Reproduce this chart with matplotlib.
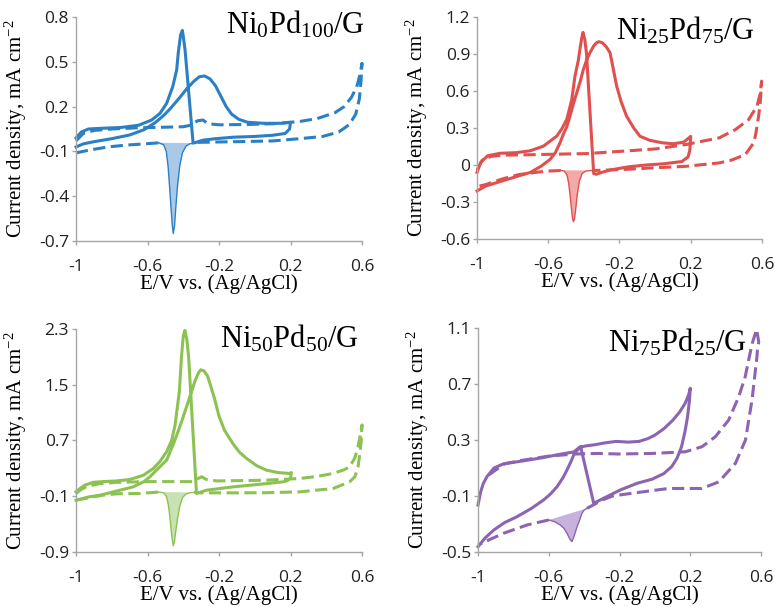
# -*- coding: utf-8 -*-
import numpy as np
import matplotlib
matplotlib.use('Agg')
from matplotlib import pyplot as plt

nan = np.nan

X_TICKS = [-1, -0.6, -0.2, 0.2, 0.6]

# Ni0Pd100/G  (solid = CV loop, dashed = second loop, red = reduction peak)
P1_SOLID_E = [-1.00, -0.96, -0.90, -0.80, -0.70, -0.62, -0.56, -0.51, -0.47, -0.42, -0.38, -0.34, -0.31,
              -0.28, -0.25, -0.22, -0.19, -0.16, -0.13, -0.09, -0.04, 0.05, 0.15, 0.20, 0.195, 0.17,
              0.10, 0.00, -0.12, -0.22, -0.29, -0.33, -0.345, -0.39, -0.40, -0.405, -0.415, -0.428,
              -0.437, -0.459, -0.493, -0.53, -0.577, -0.65, -0.75, -0.85, -0.93, -0.97, -1.00]
P1_SOLID_J = [-0.07, -0.05, -0.035, -0.015, 0.01, 0.045, 0.09, 0.14, 0.19, 0.26, 0.32, 0.37, 0.40,
              0.405, 0.385, 0.34, 0.27, 0.20, 0.15, 0.115, 0.095, 0.088, 0.088, 0.095, 0.05, 0.02,
              0.008, 0.0, -0.005, -0.015, -0.025, -0.04, -0.045, 0.58, 0.67, 0.71, 0.68, 0.56,
              0.445, 0.333, 0.222, 0.155, 0.11, 0.075, 0.06, 0.055, 0.05, 0.03, -0.01]
P1_DASH_E = [-1.00, -0.96, -0.90, -0.80, -0.65, -0.50, -0.40, -0.36, -0.32, -0.29, -0.26, -0.20, -0.05,
             0.10, 0.25, 0.35, 0.45, 0.50, 0.54, 0.57, 0.59, 0.60, 0.595, 0.585, 0.565, 0.53, 0.47,
             0.38, 0.25, 0.10, -0.10, -0.25, -0.34, nan, -0.54, -0.62, -0.72, -0.82, -0.92, -1.00]
P1_DASH_J = [-0.03, 0.02, 0.04, 0.05, 0.058, 0.062, 0.065, 0.075, 0.105, 0.11, 0.085, 0.078, 0.08,
             0.085, 0.10, 0.12, 0.16, 0.20, 0.26, 0.33, 0.42, 0.49, 0.38, 0.25, 0.15, 0.08, 0.03,
             0.0, -0.015, -0.03, -0.035, -0.038, -0.04, nan, -0.043, -0.05, -0.058, -0.07, -0.09, -0.11]
P1_RED_E = [-0.54, -0.51, -0.495, -0.485, -0.477, -0.469, -0.462, -0.456, -0.449, -0.442, -0.432,
            -0.42, -0.405, -0.385, -0.365, -0.345]
P1_RED_J = [-0.042, -0.055, -0.10, -0.20, -0.33, -0.47, -0.59, -0.65, -0.60, -0.48, -0.33,
            -0.20, -0.11, -0.065, -0.05, -0.045]
P1_YTICKS = [0.8, 0.5, 0.2, -0.1, -0.4, -0.7]

# Ni25Pd75/G
P2_SOLID_E = [-1.00, -0.95, -0.86, -0.77, -0.70, -0.64, -0.59, -0.56, -0.534, -0.515, -0.496, -0.478,
              -0.46, -0.44, -0.42, -0.403, -0.385, -0.366, -0.345, -0.33, -0.315, -0.295, -0.275,
              -0.253, -0.235, -0.216, -0.19, -0.16, -0.12, -0.085, -0.03, 0.04, 0.10, 0.16, 0.20,
              0.195, 0.185, 0.15, 0.05, -0.05, -0.15, -0.25, -0.30, -0.33, -0.345, -0.385, -0.395,
              -0.405, -0.412, -0.42, -0.431, -0.45, -0.468, -0.496, -0.525, -0.553, -0.628, -0.702,
              -0.78, -0.87, -0.94, -0.98, -1.00]
P2_SOLID_J = [-0.21, -0.17, -0.13, -0.09, -0.06, -0.01, 0.045, 0.10, 0.18, 0.25, 0.31, 0.395,
              0.49, 0.585, 0.68, 0.773, 0.85, 0.91, 0.965, 0.99, 1.0, 0.99, 0.96,
              0.91, 0.78, 0.64, 0.51, 0.395, 0.30, 0.233, 0.20, 0.18, 0.172, 0.185, 0.232,
              0.12, 0.065, 0.028, 0.01, 0.0, -0.015, -0.04, -0.06, -0.075, -0.07, 0.90, 1.02,
              1.075, 1.03, 0.96, 0.85, 0.72, 0.53, 0.37, 0.29, 0.233, 0.152, 0.115,
              0.10, 0.095, 0.075, 0.02, -0.06]
P2_DASH_E = [-1.00, -0.97, -0.92, -0.85, -0.70, -0.55, -0.39, -0.20, 0.0, 0.17, 0.36, 0.45, 0.525,
             0.572, 0.59, 0.598, 0.59, 0.581, 0.565, 0.553, 0.506, 0.43, 0.357, 0.17, -0.02, -0.20,
             -0.35, nan, -0.53, -0.616, -0.766, -0.85, -0.897, -0.953, -1.00]
P2_DASH_J = [-0.04, 0.04, 0.07, 0.08, 0.083, 0.088, 0.092, 0.11, 0.13, 0.165, 0.22, 0.286, 0.368,
             0.476, 0.58, 0.68, 0.50, 0.395, 0.25, 0.178, 0.084, 0.04, 0.016, -0.011, -0.024, -0.038,
             -0.045, nan, -0.045, -0.05, -0.078, -0.11, -0.132, -0.16, -0.175]
P2_RED_E = [-0.53, -0.51, -0.495, -0.485, -0.477, -0.47, -0.464, -0.459, -0.453, -0.446, -0.437,
            -0.425, -0.41, -0.39, -0.37, -0.35]
P2_RED_J = [-0.043, -0.05, -0.08, -0.15, -0.25, -0.35, -0.43, -0.46, -0.44, -0.36, -0.24,
            -0.13, -0.07, -0.05, -0.045, -0.045]
P2_YTICKS = [1.2, 0.9, 0.6, 0.3, 0, -0.3, -0.6]

# Ni50Pd50/G
P3_SOLID_E = [-1.00, -0.93, -0.866, -0.78, -0.68, -0.62, -0.587, -0.54, -0.493, -0.455, -0.419, -0.39,
              -0.363, -0.335, -0.315, -0.302, -0.285, -0.265, -0.251, -0.225, -0.20, -0.17, -0.121,
              -0.085, -0.046, 0.01, 0.065, 0.13, 0.196, 0.205, 0.20, 0.18, 0.158, 0.02, -0.12,
              -0.27, -0.316, -0.326, -0.37, -0.38, -0.391, -0.40, -0.41, -0.422, -0.446, -0.465,
              -0.493, -0.53, -0.567, -0.624, -0.70, -0.773, -0.85, -0.903, -0.95, -0.978, -1.00]
P3_SOLID_J = [-0.157, -0.11, -0.085, -0.03, 0.035, 0.11, 0.179, 0.30, 0.419, 0.65, 0.899, 1.12,
              1.33, 1.55, 1.67, 1.715, 1.70, 1.63, 1.52, 1.30, 1.05, 0.85, 0.65,
              0.53, 0.443, 0.34, 0.275, 0.24, 0.227, 0.24, 0.16, 0.12, 0.107, 0.07, 0.035,
              -0.013, -0.05, -0.06, 1.90, 2.15, 2.28, 2.20, 1.90, 1.40, 0.92, 0.70,
              0.54, 0.40, 0.30, 0.20, 0.14, 0.12, 0.11, 0.10, 0.06, 0.011, -0.037]
P3_DASH_E = [-1.00, -0.97, -0.94, -0.87, -0.773, -0.60, -0.45, -0.344, -0.32, -0.298, -0.27, -0.214,
             -0.05, 0.065, 0.252, 0.35, 0.438, 0.50, 0.531, 0.56, 0.578, 0.592, 0.60, 0.596, 0.59,
             0.578, 0.56, 0.531, 0.438, 0.252, 0.05, -0.121, -0.307, -0.34, nan, -0.54, -0.642,
             -0.773, -0.85, -0.903, -1.00]
P3_DASH_J = [-0.06, 0.0, 0.04, 0.08, 0.10, 0.11, 0.11, 0.11, 0.15, 0.18, 0.14, 0.12,
             0.125, 0.131, 0.155, 0.185, 0.227, 0.28, 0.323, 0.45, 0.611, 0.80, 0.923, 0.707, 0.55,
             0.323, 0.18, 0.107, 0.011, -0.037, -0.05, -0.051, -0.051, -0.045, nan, -0.04, -0.06,
             -0.065, -0.085, -0.109, -0.157]
P3_RED_E = [-0.54, -0.51, -0.495, -0.485, -0.477, -0.47, -0.463, -0.456, -0.449, -0.442, -0.432,
            -0.42, -0.405, -0.385, -0.365, -0.345]
P3_RED_J = [-0.04, -0.05, -0.10, -0.20, -0.35, -0.52, -0.70, -0.81, -0.75, -0.60, -0.42,
            -0.25, -0.12, -0.07, -0.05, -0.045]
P3_YTICKS = [2.3, 1.5, 0.7, -0.1, -0.9]

# Ni75Pd25/G
P4_SOLID_E = [-1.00, -0.96, -0.911, -0.85, -0.78, -0.70, -0.629, -0.59, -0.553, -0.52, -0.497, -0.475,
              -0.459, -0.44, -0.42, -0.39, -0.346, -0.28, -0.22, -0.15, -0.09, -0.04, 0.0, 0.05, 0.10,
              0.14, 0.17, 0.19, 0.20, 0.195, 0.185, 0.17, 0.15, 0.125, 0.095, 0.05, -0.016, -0.10,
              -0.196, -0.29, -0.346, -0.42, -0.459, -0.55, -0.629, -0.75, -0.855, -0.91, -0.949,
              -0.97, -0.985, -1.00]
P4_SOLID_J = [-0.462, -0.40, -0.343, -0.29, -0.248, -0.19, -0.128, -0.085, -0.033, 0.03, 0.086, 0.145,
              0.194, 0.225, 0.25, 0.258, 0.265, 0.28, 0.29, 0.285, 0.29, 0.31, 0.335, 0.38, 0.44,
              0.50, 0.56, 0.62, 0.67, 0.58, 0.47, 0.36, 0.25, 0.17, 0.11, 0.06, 0.02, -0.009,
              -0.057, -0.116, -0.152, 0.253, 0.215, 0.195, 0.175, 0.15, 0.13, 0.10, 0.039,
              -0.01, -0.07, -0.164]
P4_DASH_E = [-0.94, -0.85, -0.75, -0.60, -0.45, -0.318, -0.205, -0.016, 0.172, 0.266, 0.342, 0.417,
             0.474, 0.51, 0.53, 0.55, 0.575, 0.587, 0.58, 0.577, 0.549, 0.512, 0.455, 0.361, 0.266,
             0.078, -0.11, -0.24, -0.30, -0.35, -0.384, nan, -0.60, -0.723, -0.855, -0.95, -1.00]
P4_DASH_J = [0.05, 0.13, 0.155, 0.185, 0.20, 0.204, 0.20, 0.204, 0.216, 0.252, 0.324, 0.443,
             0.61, 0.75, 0.873, 0.99, 1.09, 1.0, 0.95, 0.897, 0.587, 0.30, 0.133, 0.001, -0.046,
             -0.046, -0.077, -0.10, -0.13, -0.165, -0.188, nan, -0.271, -0.307, -0.366, -0.42, -0.45]
P4_RED_E = [-0.384, -0.40, -0.412, -0.425, -0.44, -0.455, -0.469, -0.48, -0.497, -0.515, -0.535,
            -0.565, -0.60]
P4_RED_J = [-0.188, -0.20, -0.223, -0.27, -0.319, -0.38, -0.426, -0.41, -0.366, -0.33, -0.307,
            -0.285, -0.271]
P4_YTICKS = [1.1, 0.7, 0.3, -0.1, -0.5]

TITLES = [r'$\mathrm{Ni_{0}Pd_{100}/G}$', r'$\mathrm{Ni_{25}Pd_{75}/G}$',
          r'$\mathrm{Ni_{50}Pd_{50}/G}$', r'$\mathrm{Ni_{75}Pd_{25}/G}$']
COLORS = ['#2b80c5', '#e0504e', '#8cc251', '#8c64b2']
FILL_COLORS = ['#a9c9e8', '#f2a9a7', '#c8e2b2', '#c6b2dc']


def draw_panel(ax, solid, dash, red, yticks, color, fill_color, title, title_xy, ylab_x):
    # CV curves
    ax.plot(solid[0], solid[1], color=color, lw=2.2, clip_on=False, solid_joinstyle='round')
    ax.plot(dash[0], dash[1], color=color, lw=2.2, ls=(0, (4, 1.8)), clip_on=False)
    # Reduction peak, shaded
    ax.fill(red[0], red[1], color=fill_color, lw=0)
    ax.plot(red[0], red[1], color=color, lw=1.0)

    ax.set_xlim(-1, 0.6)
    ax.set_ylim(min(yticks), max(yticks))
    ax.set_xticks(X_TICKS)
    ax.set_xticklabels([f'{v:g}' for v in X_TICKS])
    ax.set_yticks(yticks)
    ax.set_yticklabels([f'{v:g}' for v in yticks])

    # Axis styling
    for side in ['top', 'right']:
        ax.spines[side].set_visible(False)
    for side in ['left', 'bottom']:
        ax.spines[side].set_color('#a6a6a6')
        ax.spines[side].set_linewidth(1.0)
    ax.tick_params(direction='out', length=3, width=1.0, color='#a6a6a6',
                   labelsize=12.5, labelcolor='#222222')
    ax.tick_params(axis='x', pad=10)
    ax.tick_params(axis='y', pad=2)

    ax.set_xlabel('E/V vs. (Ag/AgCl)', family='Liberation Serif', fontsize=15)
    ax.set_ylabel(r'Current density, mA cm$^{-2}$', family='Liberation Serif', fontsize=15)
    ax.xaxis.set_label_coords(0.5, -0.15)
    ax.yaxis.set_label_coords(ylab_x, 0.5)

    ax.text(title_xy[0], title_xy[1], title, transform=ax.transAxes, ha='right',
            va='baseline', fontsize=22)


def main():
    plt.rcParams['font.family'] = ['Open Sans', 'DejaVu Sans']
    plt.rcParams['mathtext.fontset'] = 'custom'
    plt.rcParams['mathtext.rm'] = 'Liberation Serif'
    plt.rcParams['mathtext.it'] = 'Liberation Serif:italic'
    plt.rcParams['axes.unicode_minus'] = False

    fig = plt.figure(figsize=(7.75, 6.07), dpi=100)

    positions = [[0.0981, 0.603, 0.369, 0.369],
                 [0.6155, 0.6063, 0.3677, 0.3657],
                 [0.0981, 0.0906, 0.369, 0.3674],
                 [0.6168, 0.0906, 0.3652, 0.369]]
    title_xy = [(1.01, 0.925), (0.975, 0.90), (0.99, 0.915), (0.95, 0.895)]
    ylab_x = [-0.165, -0.165, -0.165, -0.165]

    panels = [
        ((P1_SOLID_E, P1_SOLID_J), (P1_DASH_E, P1_DASH_J), (P1_RED_E, P1_RED_J), P1_YTICKS),
        ((P2_SOLID_E, P2_SOLID_J), (P2_DASH_E, P2_DASH_J), (P2_RED_E, P2_RED_J), P2_YTICKS),
        ((P3_SOLID_E, P3_SOLID_J), (P3_DASH_E, P3_DASH_J), (P3_RED_E, P3_RED_J), P3_YTICKS),
        ((P4_SOLID_E, P4_SOLID_J), (P4_DASH_E, P4_DASH_J), (P4_RED_E, P4_RED_J), P4_YTICKS),
    ]

    for i, (solid, dash, red, yticks) in enumerate(panels):
        ax = fig.add_axes(positions[i])
        draw_panel(ax, solid, dash, red, yticks, COLORS[i], FILL_COLORS[i], TITLES[i],
                   title_xy[i], ylab_x[i])

    fig.savefig('out.png', dpi=100)


if __name__ == '__main__':
    main()
